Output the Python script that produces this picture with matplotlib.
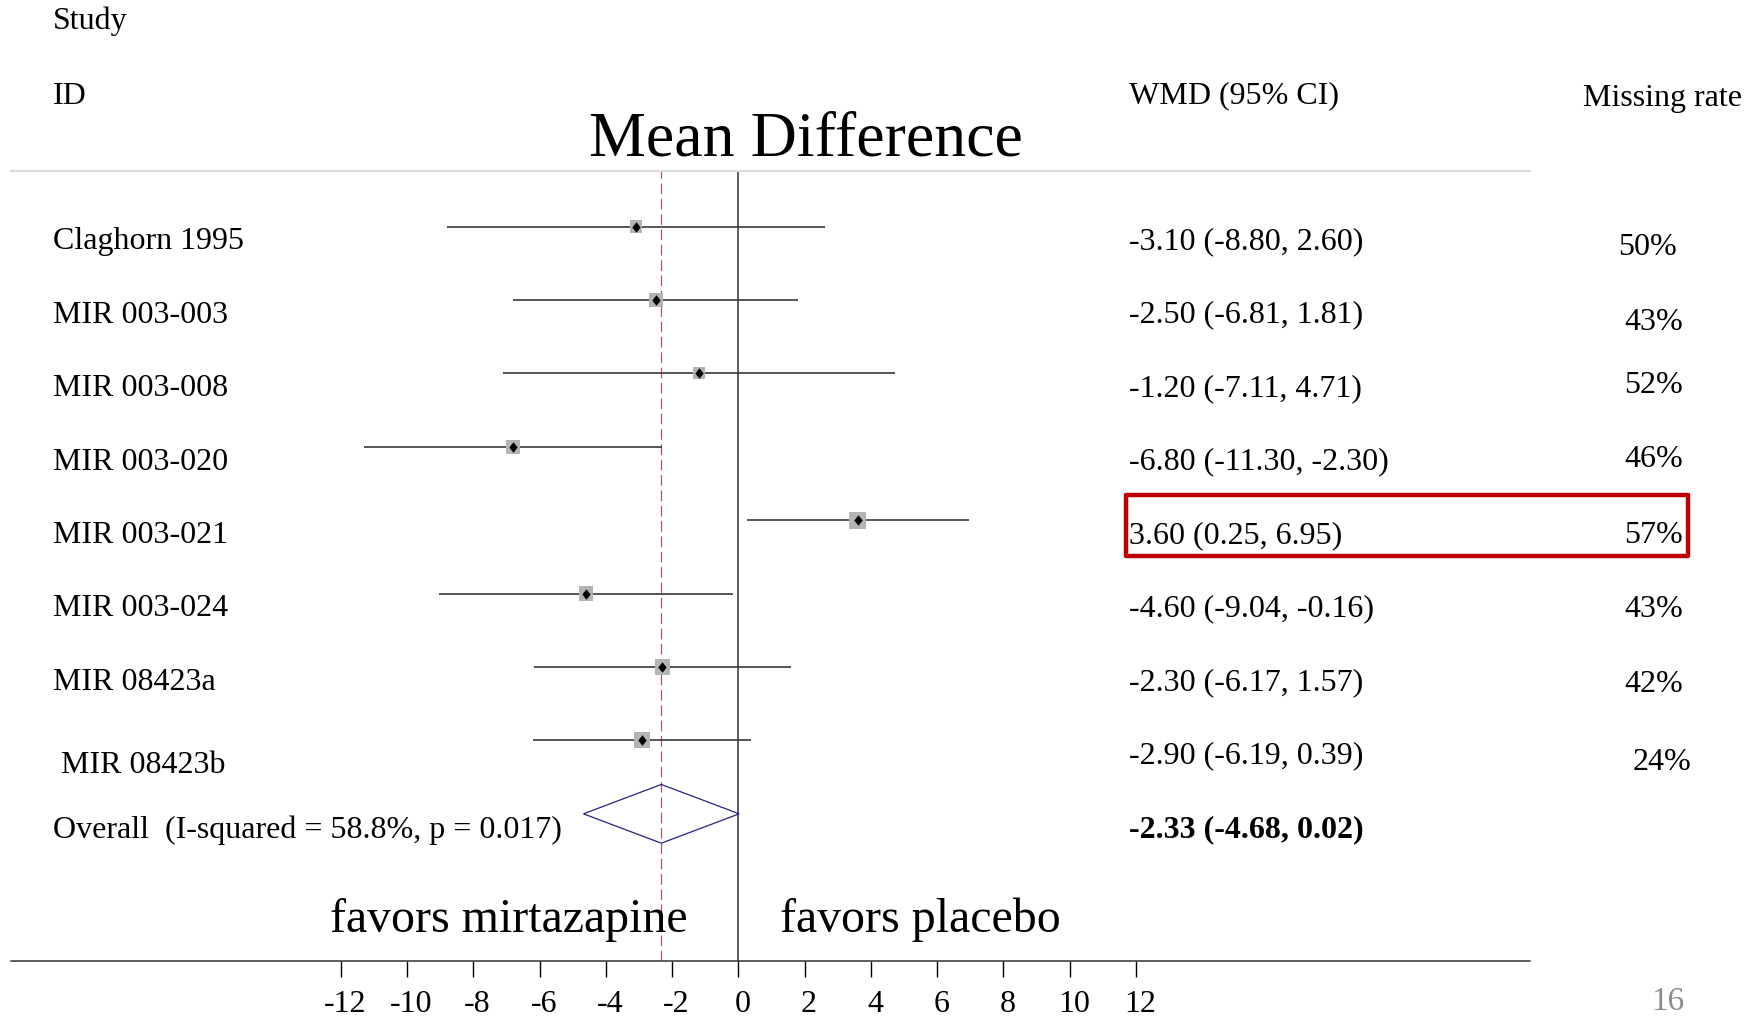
import matplotlib
matplotlib.use('Agg')
import matplotlib.pyplot as plt
import matplotlib.transforms as mtransforms
from matplotlib.patches import Polygon, Rectangle

plt.rcParams['font.family'] = ['Liberation Serif', 'DejaVu Serif']
plt.rcParams['axes.unicode_minus'] = False

# trial data
studies = ['Claghorn 1995', 'MIR 003-003', 'MIR 003-008', 'MIR 003-020',
           'MIR 003-021', 'MIR 003-024', 'MIR 08423a', 'MIR 08423b']
wmd = [-3.10, -2.50, -1.20, -6.80, 3.60, -4.60, -2.30, -2.90]
ci_low = [-8.80, -6.81, -7.11, -11.30, 0.25, -9.04, -6.17, -6.19]
ci_high = [2.60, 1.81, 4.71, -2.30, 6.95, -0.16, 1.57, 0.39]
missing_rate = ['50%', '43%', '52%', '46%', '57%', '43%', '42%', '24%']

overall_wmd = -2.33
overall_low = -4.68
overall_high = 0.02
i_squared = 58.8
p_value = 0.017

x_ticks = list(range(-12, 13, 2))

# per-row layout (box side in px, text nudges)
box_px = [12.5, 14, 12, 14, 17, 14.5, 15.5, 16]
label_dy = [0.296] * 7 + [0.435]
rate_dy = [0.37, 0.40, 0.25, 0.26, 0.30, 0.31, 0.33, 0.39]
rate_dx = [-6, 0, 0, 0, 0, 0, 0, 8]
label_dx = [0] * 7 + [8]

W, H = 1758, 1020
DPI = 100
PT = 72 / DPI  # points per pixel


def fx(px):
    return px / W


def fy(py):
    return 1 - py / H


fig = plt.figure(figsize=(W / DPI, H / DPI), dpi=DPI)
fig.patch.set_facecolor('white')

# forest plot area: effect scale on x, one row per study going down
x_left, x_right = -21.95, 23.9
ax = fig.add_axes([fx(738.5 + x_left * 33.125), fy(962),
                   (x_right - x_left) * 33.125 / W, (962 - 172) / H])
ax.set_xlim(x_left, x_right)
ax.set_ylim(10.005, -0.757)
ax.set_facecolor('none')

rows = list(range(len(studies)))
overall_row = len(studies)

ax.axvline(0, color='#333333', lw=1.1, zorder=1)
ax.axvline(overall_wmd, color='#b0505c', lw=0.85, dashes=(9, 4), zorder=1)

ax.hlines(rows, ci_low, ci_high, color='#3a3a3a', lw=1.2, zorder=2)
ax.scatter(wmd, rows, s=[(b * PT) ** 2 for b in box_px], marker='s',
           color='#b4b4b4', linewidths=0, zorder=3)
diamond = [(0, 1), (0.8, 0), (0, -1), (-0.8, 0), (0, 1)]
ax.scatter(wmd, rows, s=(10.5 * PT) ** 2, marker=diamond, color='black',
           linewidths=0, zorder=4)

ax.add_patch(Polygon([(overall_low, overall_row),
                      (overall_wmd, overall_row - 0.4),
                      (overall_high, overall_row),
                      (overall_wmd, overall_row + 0.4)],
                     closed=True, fill=False, edgecolor='#23238a', lw=0.9,
                     zorder=3))

for side in ['left', 'right']:
    ax.spines[side].set_visible(False)
ax.spines['bottom'].set_color('#333333')
ax.spines['bottom'].set_linewidth(1.1)
ax.spines['top'].set_color('#dcdcdc')
ax.spines['top'].set_linewidth(1.5)
ax.set_yticks([])
ax.set_xticks(x_ticks)
ax.set_xticklabels([str(t) for t in x_ticks])
ax.tick_params(axis='x', direction='out', length=11.5, width=1.0,
               color='black', labelsize=23, pad=8.8)
for lbl in ax.get_xticklabels():
    lbl.set_transform(lbl.get_transform() +
                      mtransforms.ScaledTranslation(4 / DPI, 0, fig.dpi_scale_trans))

# text columns, x in figure px, y in rows
row_tr = mtransforms.blended_transform_factory(fig.transFigure, ax.transData)

for i, name in enumerate(studies):
    ax.text(fx(52.7 + label_dx[i]), i + label_dy[i], name, transform=row_tr,
            fontsize=23, va='baseline', ha='left')
    ax.text(fx(1129), i + 0.296,
            f'{wmd[i]:.2f} ({ci_low[i]:.2f}, {ci_high[i]:.2f})',
            transform=row_tr, fontsize=23, va='baseline', ha='left')
    ax.text(fx(1683 + rate_dx[i]), i + rate_dy[i], missing_rate[i],
            transform=row_tr, fontsize=23, va='baseline', ha='right')

ax.text(fx(52.7), overall_row + 0.31,
        f'Overall  (I-squared = {i_squared:.1f}%, p = {p_value:.3f})',
        transform=row_tr, fontsize=23, va='baseline', ha='left')
ax.text(fx(1129), overall_row + 0.31,
        f'{overall_wmd:.2f} ({overall_low:.2f}, {overall_high:.2f})',
        transform=row_tr, fontsize=23, va='baseline', ha='left',
        fontweight='bold')

# highlighted row
ax.add_patch(Rectangle((fx(1126), 4 - 0.345), fx(1688) - fx(1126), 0.835,
                       transform=row_tr, fill=False, edgecolor='#c00000',
                       lw=3.2, joinstyle='round', clip_on=False, zorder=5))

# headers
fig.text(fx(52.7), fy(29.5), 'Study', fontsize=23, va='baseline')
fig.text(fx(52.7), fy(103.5), 'ID', fontsize=23, va='baseline')
fig.text(fx(1129), fy(103.5), 'WMD (95% CI)', fontsize=23, va='baseline')
fig.text(fx(1583), fy(106), 'Missing rate', fontsize=23, va='baseline')
fig.text(fx(806), fy(156), 'Mean Difference', fontsize=46, va='baseline',
         ha='center')

fig.text(fx(508.5), fy(932), 'favors mirtazapine', fontsize=34.5,
         va='baseline', ha='center')
fig.text(fx(920), fy(932), 'favors placebo', fontsize=34.5,
         va='baseline', ha='center')

fig.text(fx(1668), fy(1010), '16', fontsize=24, va='baseline', ha='center',
         color='#8c8c8c')

fig.savefig('out.png', dpi=DPI, facecolor='white')
